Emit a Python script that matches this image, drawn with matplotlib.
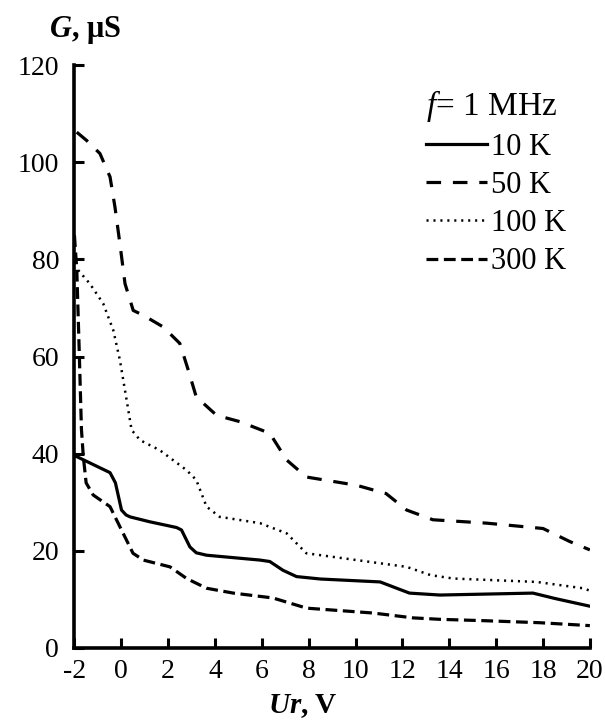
import matplotlib
matplotlib.use("Agg")
import matplotlib.pyplot as plt
from matplotlib.lines import Line2D

plt.rcParams['font.family'] = ['Liberation Serif', 'DejaVu Serif']
plt.rcParams['mathtext.fontset'] = 'custom'
plt.rcParams['mathtext.rm'] = 'Liberation Serif'
plt.rcParams['mathtext.it'] = 'Liberation Serif:italic'
plt.rcParams['mathtext.bf'] = 'Liberation Serif:bold'
plt.rcParams['mathtext.bfit'] = 'Liberation Serif:italic:bold'
plt.rcParams['lines.scale_dashes'] = False

# 10 K
u_10 = [-1.9, -0.48, -0.25, 0.01, 0.2, 0.37, 1.2, 2.36, 2.57, 2.93, 3.2, 3.64, 5.92, 6.34,
        6.9, 7.48, 8.5, 11.05, 11.7, 12.3, 13.6, 17.57, 18.5, 20.0]
g_10 = [39.4, 36.1, 34.0, 28.4, 27.4, 27.0, 26.0, 24.8, 24.3, 20.8, 19.6, 19.1, 18.1, 17.8,
        16.0, 14.7, 14.2, 13.6, 12.4, 11.3, 10.9, 11.3, 10.2, 8.6]

# 50 K
u_50 = [-1.9, -1.48, -0.91, -0.48, -0.27, -0.06, 0.16, 0.51, 0.94, 1.79, 2.5, 2.86, 3.2, 4.07,
        5.06, 6.34, 7.06, 7.9, 10.04, 11.3, 12.18, 13.3, 15.6, 18.0, 19.15, 20.0]
g_50 = [106.2, 104.5, 101.8, 97.0, 90.8, 83.3, 75.0, 69.5, 68.5, 66.1, 62.7, 57.2, 51.7, 47.9,
        46.6, 44.2, 38.7, 35.2, 33.5, 31.8, 28.4, 26.4, 25.7, 24.6, 21.9, 20.2]

# 100 K
u_100 = [-1.84, -1.34, -0.77, -0.34, -0.06, 0.23, 0.44, 0.8, 1.65, 2.79, 3.2, 3.64, 4.2, 5.92,
         7.06, 7.9, 10.04, 12.18, 13.2, 14.17, 17.73, 19.7, 20.0]
g_100 = [77.8, 75.0, 70.9, 65.4, 59.3, 51.0, 44.9, 42.8, 40.7, 36.6, 34.6, 29.1, 27.0, 25.7,
         23.6, 19.5, 18.1, 16.7, 15.0, 14.3, 13.6, 12.3, 11.8]

# 300 K
u_300 = [-2.0, -1.9, -1.8, -1.7, -1.62, -1.5, -1.2, -0.48, 0.01, 0.5, 0.94, 2.08, 2.79, 3.64,
         4.78, 6.47, 7.91, 10.74, 12.45, 13.6, 15.6, 17.87, 20.0]
g_300 = [85.0, 78.0, 62.0, 45.0, 39.4, 34.0, 31.5, 29.1, 24.3, 19.5, 18.1, 16.7, 14.3, 12.3,
         11.3, 10.3, 8.2, 7.2, 6.2, 5.9, 5.6, 5.2, 4.6]

labels = ['10 K', '50 K', '100 K', '300 K']
x_ticks = list(range(-2, 21, 2))
y_ticks = list(range(0, 121, 20))

fig = plt.figure(figsize=(6.05, 7.24), dpi=100)
ax = fig.add_axes([0.123, 0.105, 0.852, 0.805])

styles = [
    dict(ls='-', lw=2.3),
    dict(ls=(0, (10.5, 8.5)), lw=2.3),
    dict(ls=(0, (1.5, 3.5)), lw=1.8),
    dict(ls=(0, (8.5, 4.0)), lw=2.3),
]
series = [(u_10, g_10), (u_50, g_50), (u_100, g_100), (u_300, g_300)]
handles = []
for (u, g), st, lab in zip(series, styles, labels):
    ax.plot(u, g, color='black', solid_joinstyle='round', dash_joinstyle='round', **st)
    handles.append(Line2D([], [], color='black', **st))

ax.set_xlim(-2, 20)
ax.set_ylim(0, 120)
ax.set_xticks(x_ticks)
ax.set_yticks(y_ticks)
ax.set_xticklabels([str(t) for t in x_ticks])
ax.tick_params(direction='in', length=7, width=2.2, labelsize=20)
ax.tick_params(axis='y', pad=11)
ax.tick_params(axis='x', pad=8)
for s in ['top', 'right']:
    ax.spines[s].set_visible(False)
for s in ['left', 'bottom']:
    ax.spines[s].set_linewidth(2.6)

leg = ax.legend(handles, labels, loc='upper right', bbox_to_anchor=(0.99, 0.993),
                frameon=False, fontsize=22, title='$f$= 1 MHz', title_fontsize=24,
                handlelength=2.0, handletextpad=0.15, labelspacing=0.3,
                borderaxespad=0.2)
leg._legend_box.align = 'left'

fig.text(0.14, 0.958, r'$\mathbfit{G}$, μS', fontsize=22, fontweight='bold',
         ha='center', va='center')
fig.text(0.5, 0.025, r'$\mathbfit{Ur}$, V', fontsize=21, fontweight='bold',
         ha='center', va='center')

fig.savefig('out.png', dpi=100)
